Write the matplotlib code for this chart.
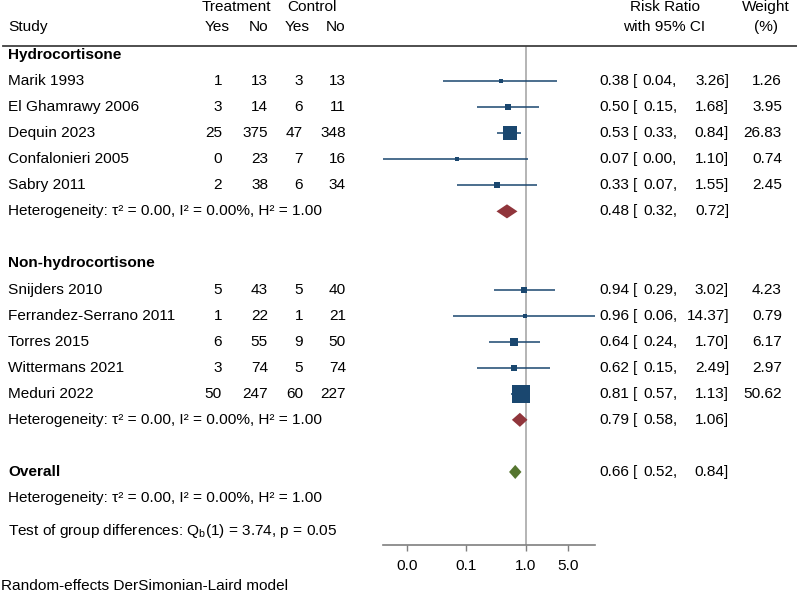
import numpy as np
import matplotlib
matplotlib.use("Agg")
import matplotlib.pyplot as plt

plt.rcParams['font.family'] = ['Liberation Sans', 'DejaVu Sans']
plt.rcParams['font.size'] = 11.1

# data
group_names = ["Hydrocortisone", "Non-hydrocortisone"]
hydro_studies = ["Marik 1993", "El Ghamrawy 2006", "Dequin 2023", "Confalonieri 2005", "Sabry 2011"]
hydro_t_yes = [1, 3, 25, 0, 2]
hydro_t_no = [13, 14, 375, 23, 38]
hydro_c_yes = [3, 6, 47, 7, 6]
hydro_c_no = [13, 11, 348, 16, 34]
hydro_rr = [0.38, 0.50, 0.53, 0.07, 0.33]
hydro_lo = [0.04, 0.15, 0.33, 0.004, 0.07]
hydro_hi = [3.26, 1.68, 0.84, 1.10, 1.55]
hydro_wt = [1.26, 3.95, 26.83, 0.74, 2.45]
hydro_sub = (0.48, 0.32, 0.72)

non_studies = ["Snijders 2010", "Ferrandez-Serrano 2011", "Torres 2015", "Wittermans 2021", "Meduri 2022"]
non_t_yes = [5, 1, 6, 3, 50]
non_t_no = [43, 22, 55, 74, 247]
non_c_yes = [5, 1, 9, 5, 60]
non_c_no = [40, 21, 50, 74, 227]
non_rr = [0.94, 0.96, 0.64, 0.62, 0.81]
non_lo = [0.29, 0.06, 0.24, 0.15, 0.57]
non_hi = [3.02, 14.37, 1.70, 2.49, 1.13]
non_wt = [4.23, 0.79, 6.17, 2.97, 50.62]
non_sub = (0.79, 0.58, 1.06)

overall = (0.66, 0.52, 0.84)
het_text = "Heterogeneity: τ² = 0.00, I² = 0.00%, H² = 1.00"
test_text = r"Test of group differences: Q$_\mathregular{b}$(1) = 3.74, p = 0.05"
footer = "Random-effects DerSimonian-Laird model"
tick_vals = [0.01, 0.1, 1, 5]
tick_labels = ["0.0", "0.1", "1.0", "5.0"]

navy = "#1a476f"
maroon = "#90353b"
green = "#55752f"

W, H = 797, 594
fig = plt.figure(figsize=(W / 100, H / 100), dpi=100)

def fx(x):
    return x / W

def fy(y):
    return 1 - y / H

# forest panel in pixel layout
top, bot = 46, 545
ax = fig.add_axes([fx(383), fy(bot), (595 - 383) / W, (bot - top) / H])
row0, pitch = 55, 26.06
ax.set_ylim((bot - row0) / pitch, (top - row0) / pitch)
ax.set_xscale("log")
ax.set_xlim(min(hydro_lo + non_lo), max(hydro_hi + non_hi))
for s in ["top", "right", "left"]:
    ax.spines[s].set_visible(False)
ax.spines["bottom"].set_color("#7f7f7f")
ax.spines["bottom"].set_linewidth(1.2)
ax.set_yticks([])
ax.xaxis.set_minor_locator(matplotlib.ticker.NullLocator())
ax.set_xticks(tick_vals)
ax.set_xticklabels(tick_labels)
ax.tick_params(axis="x", length=4, width=1, color="#7f7f7f", pad=6, labelsize=11.1)
ax.axvline(1, color="#a0a0a0", lw=1.1, zorder=0)

trans = matplotlib.transforms.blended_transform_factory(fig.transFigure, ax.transData)

def txt(x, row, s, ha="left", **kw):
    ax.text(fx(x), row, s, ha=ha, va="center", transform=trans, **kw)

def ci_text(row, est, lo, hi, wt=None):
    txt(629, row, "%.2f" % est, ha="right")
    txt(633, row, "[", ha="left")
    txt(677, row, "%.2f," % lo, ha="right")
    txt(729, row, "%.2f]" % hi, ha="right")
    if wt is not None:
        txt(782, row, "%.2f" % wt, ha="right")

def diamond(row, est, lo, hi, color):
    h = 0.27
    ax.fill([lo, est, hi, est], [row, row - h, row, row + h], color=color, lw=0, zorder=3)

groups = [
    (group_names[0], hydro_studies, hydro_t_yes, hydro_t_no, hydro_c_yes, hydro_c_no,
     hydro_rr, hydro_lo, hydro_hi, hydro_wt, hydro_sub),
    (group_names[1], non_studies, non_t_yes, non_t_no, non_c_yes, non_c_no,
     non_rr, non_lo, non_hi, non_wt, non_sub),
]

row = 0
for name, studies, ty, tn, cy, cn, rr, lo, hi, wt, sub in groups:
    txt(8, row, name, fontweight="bold")
    row += 1
    for i in range(len(studies)):
        txt(8, row, studies[i])
        txt(222, row, str(ty[i]), ha="right")
        txt(268, row, str(tn[i]), ha="right")
        txt(303, row, str(cy[i]), ha="right")
        txt(346, row, str(cn[i]), ha="right")
        ax.plot([lo[i], hi[i]], [row, row], color=navy, lw=1.1, zorder=2,
                solid_capstyle="butt", clip_on=False)
        side = (2.0 + 2.24 * np.sqrt(wt[i])) * 0.72
        ax.scatter([rr[i]], [row], marker="s", s=side ** 2, color=navy, lw=0, zorder=4)
        ci_text(row, rr[i], lo[i], hi[i], wt[i])
        row += 1
    txt(8, row, het_text)
    diamond(row, sub[0], sub[1], sub[2], maroon)
    ci_text(row, *sub)
    row += 2

txt(8, row, "Overall", fontweight="bold")
diamond(row, overall[0], overall[1], overall[2], green)
ci_text(row, *overall)
row += 1
txt(8, row, het_text)
txt(8, row + 1.26, test_text)

# headers
fig.text(fx(236), fy(7), "Treatment", ha="center", va="center")
fig.text(fx(311.5), fy(7), "Control", ha="center", va="center")
fig.text(fx(8), fy(27), "Study", ha="left", va="center")
for x, s in [(230, "Yes"), (268, "No"), (310, "Yes"), (345, "No")]:
    fig.text(fx(x), fy(27), s, ha="right", va="center")
fig.text(fx(665), fy(7), "Risk Ratio", ha="center", va="center")
fig.text(fx(664), fy(27), "with 95% CI", ha="center", va="center")
fig.text(fx(766), fy(7), "Weight", ha="center", va="center")
fig.text(fx(766), fy(27), "(%)", ha="center", va="center")
fig.add_artist(matplotlib.lines.Line2D([fx(3), 1], [fy(top), fy(top)], color="#404040", lw=1.3))

fig.text(fx(1), fy(586), footer, ha="left", va="center")

fig.savefig("out.png", dpi=100)
